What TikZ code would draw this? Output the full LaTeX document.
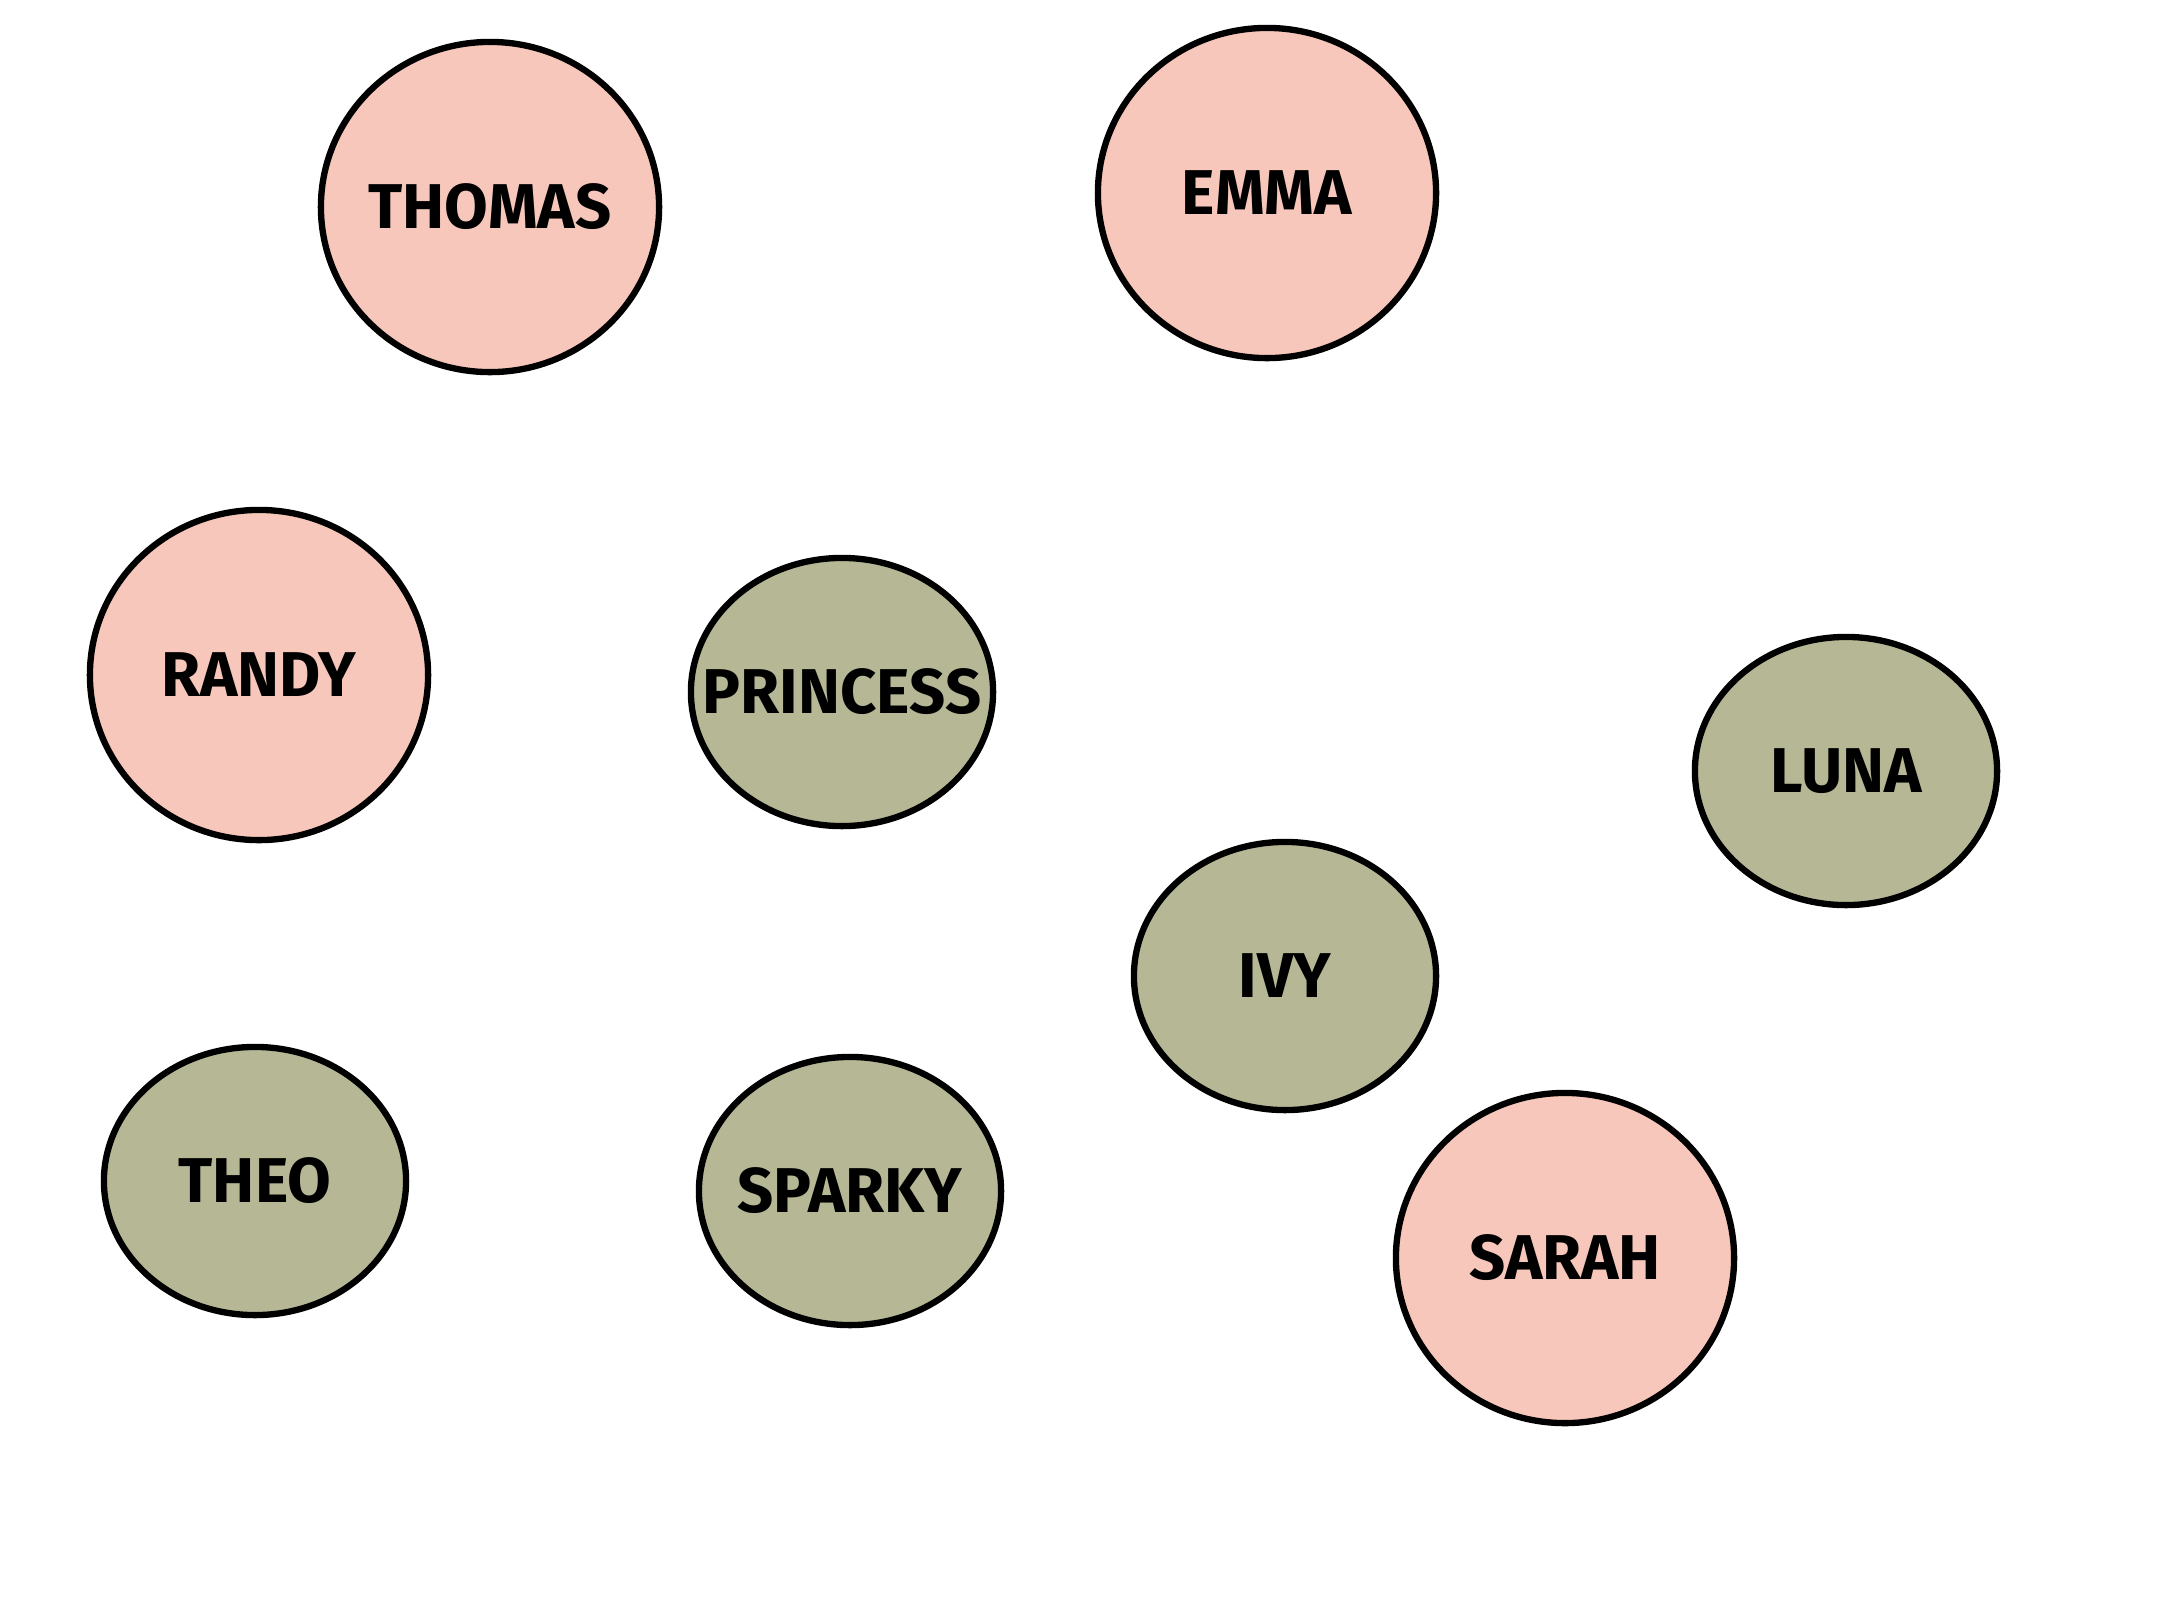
\documentclass[tikz,border=0pt]{standalone}
\usepackage{fontspec}
\setmainfont{Fira Sans}
\usepackage{tikz}
\usetikzlibrary{shapes.geometric}

\definecolor{petpink}{HTML}{F8C7BB}
\definecolor{petolive}{HTML}{B6B794}

\tikzset{
  person/.style={ellipse, draw=black, line width=1.8pt, fill=petpink,
    minimum width=3.38cm, minimum height=3.3cm, inner sep=0pt},
  pet/.style={ellipse, draw=black, line width=1.8pt, fill=petolive,
    minimum width=3.02cm, minimum height=2.68cm, inner sep=0pt},
  petname/.style={font=\fontsize{18}{22}\selectfont\bfseries, inner sep=0pt}
}

\begin{document}
\begin{tikzpicture}[x=0.01cm,y=-0.01cm]
  \useasboundingbox (0,0) rectangle (2160,1620);
  % people
  \foreach \nm/\txt/\x/\y in {thomas/THOMAS/490/207, emma/EMMA/1267/193,
      randy/RANDY/259/675, sarah/SARAH/1565/1258}
    \node[person, label={[petname]center:\txt}] (\nm) at (\x,\y) {};
  % pets
  \foreach \nm/\txt/\x/\y in {princess/PRINCESS/842/692, luna/LUNA/1846/771,
      ivy/IVY/1285/976, theo/THEO/255/1181, sparky/SPARKY/850/1191}
    \node[pet, label={[petname]center:\txt}] (\nm) at (\x,\y) {};
\end{tikzpicture}
\end{document}
